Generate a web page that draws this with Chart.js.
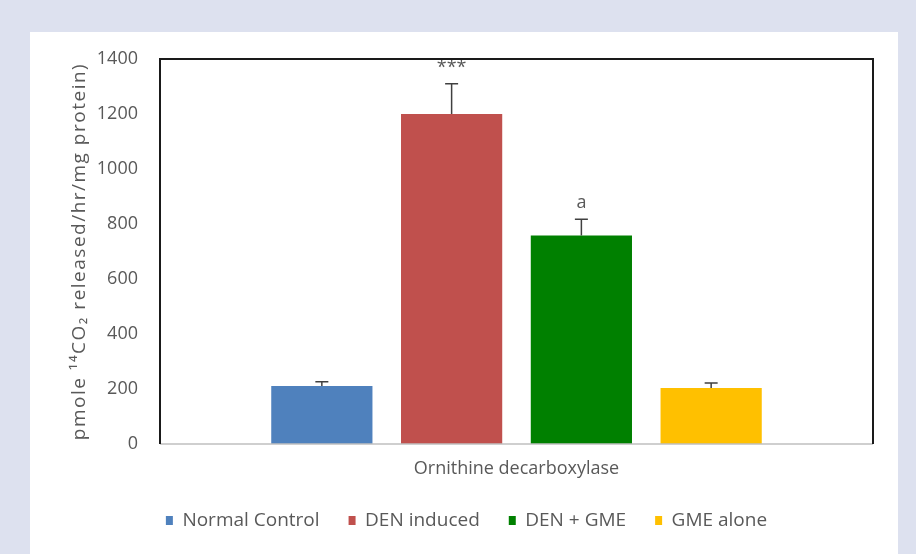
<!DOCTYPE html>
<html>
<head>
<meta charset="utf-8">
<script src="https://cdn.jsdelivr.net/npm/chart.js@4"></script>
<style>
  html, body { margin: 0; padding: 0; background: #dde1ef; }
  #wrap { position: absolute; left: 0; top: 0; width: 916px; height: 554px; }
</style>
</head>
<body>
<div id="wrap"><canvas id="c" width="916" height="554"></canvas></div>
<script>
// ---- data ----
const categories = ['Ornithine decarboxylase'];
const seriesNames = ['Normal Control', 'DEN induced', 'DEN + GME', 'GME alone'];
const seriesValues = [211, 1200, 758, 204];
const seriesErrors = [15, 110, 59, 18];
const annotations = ['', '***', 'a', ''];
const seriesColors = ['#4f81bd', '#c0504d', '#008000', '#ffc000'];
const yTicks = [0, 200, 400, 600, 800, 1000, 1200, 1400];
const yTitle = 'pmole \u00B9\u2074CO\u2082 released/hr/mg protein)';

const FONT = "'Open Sans', 'DejaVu Sans', sans-serif";
const TEXT = '#595959';

const panelPlugin = {
  id: 'panel',
  beforeDraw(chart) {
    const ctx = chart.ctx;
    ctx.save();
    ctx.fillStyle = '#dde1ef';
    ctx.fillRect(0, 0, chart.width, chart.height);
    ctx.fillStyle = '#ffffff';
    ctx.fillRect(30, 32, 868, 522);
    ctx.restore();
  },
  afterDatasetsDraw(chart) {
    const ctx = chart.ctx;
    const ys = chart.scales.y;
    const a = chart.chartArea;
    ctx.save();
    // error bars + annotations
    chart.data.datasets.forEach((ds, i) => {
      const meta = chart.getDatasetMeta(i);
      const bar = meta.data[0];
      if (!bar) return;
      const x = bar.x;
      const yTop = ys.getPixelForValue(ds.data[0]);
      const yErr = ys.getPixelForValue(ds.data[0] + seriesErrors[i]);
      ctx.strokeStyle = '#404040';
      ctx.lineWidth = 1.5;
      ctx.beginPath();
      ctx.moveTo(x, yTop);
      ctx.lineTo(x, yErr);
      ctx.moveTo(x - 6.5, yErr);
      ctx.lineTo(x + 6.5, yErr);
      ctx.stroke();
      if (annotations[i]) {
        ctx.fillStyle = TEXT;
        ctx.font = '18px ' + FONT;
        ctx.textAlign = 'center';
        ctx.textBaseline = 'alphabetic';
        ctx.fillText(annotations[i], x, yErr - 11);
      }
    });
    // y axis title (spaced letters like the original)
    ctx.save();
    ctx.translate(80, (a.top + a.bottom) / 2);
    ctx.rotate(-Math.PI / 2);
    ctx.fillStyle = TEXT;
    ctx.font = '19px ' + FONT;
    ctx.letterSpacing = '1.5px';
    ctx.textAlign = 'center';
    ctx.textBaseline = 'middle';
    ctx.fillText(yTitle, 0, 0);
    ctx.restore();
    // frame
    ctx.strokeStyle = '#bfbfbf';
    ctx.lineWidth = 1.5;
    ctx.beginPath();
    ctx.moveTo(a.left, a.bottom);
    ctx.lineTo(a.right, a.bottom);
    ctx.stroke();
    ctx.strokeStyle = '#1a1a1a';
    ctx.lineWidth = 2;
    ctx.beginPath();
    ctx.moveTo(a.left, a.bottom);
    ctx.lineTo(a.left, a.top);
    ctx.lineTo(a.right, a.top);
    ctx.lineTo(a.right, a.bottom);
    ctx.stroke();
    ctx.restore();
  }
};

new Chart(document.getElementById('c'), {
  type: 'bar',
  data: {
    labels: categories,
    datasets: seriesNames.map((name, i) => ({
      label: name,
      data: [seriesValues[i]],
      backgroundColor: seriesColors[i],
      borderWidth: 0
    }))
  },
  options: {
    responsive: false,
    animation: false,
    devicePixelRatio: 1,
    categoryPercentage: 0.728,
    barPercentage: 0.78,
    layout: { padding: { left: 60, right: 43, top: 59, bottom: 14 } },
    plugins: {
      legend: {
        position: 'bottom',
        labels: {
          boxWidth: 7,
          boxHeight: 9,
          padding: 29,
          color: TEXT,
          font: { family: FONT, size: 19 }
        }
      },
      tooltip: { enabled: false }
    },
    scales: {
      x: {
        clip: false,
        grid: { display: false, drawTicks: false },
        border: { display: false },
        ticks: { color: TEXT, font: { family: FONT, size: 18 }, padding: 14 },
        afterFit(s) { s.height = 38; }
      },
      y: {
        min: 0,
        max: 1400,
        afterBuildTicks(s) { s.ticks = yTicks.map(v => ({ value: v })); },
        grid: { display: false, drawTicks: false },
        border: { display: false },
        ticks: {
          color: TEXT,
          font: { family: FONT, size: 18 },
          padding: 22,
          callback: (v) => String(v)
        },
        afterFit(s) { s.width = 100; }
      }
    }
  },
  plugins: [panelPlugin]
});
</script>
</body>
</html>
